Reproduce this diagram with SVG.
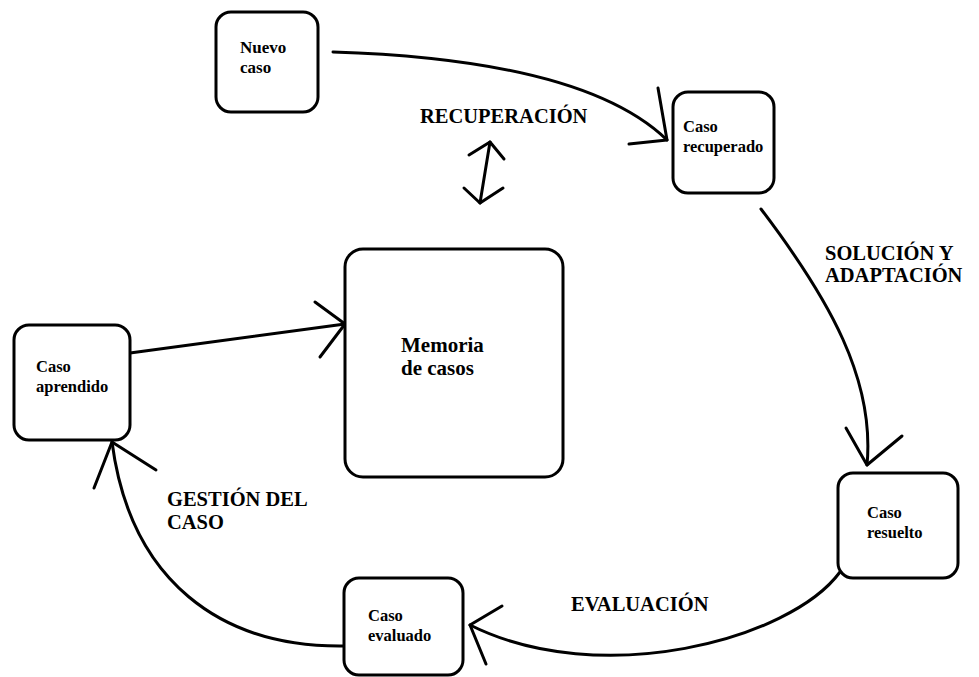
<svg xmlns="http://www.w3.org/2000/svg" width="979" height="677" viewBox="0 0 979 677">
<style>
.node{fill:#fff;stroke:#000;stroke-width:3}
.t{font-family:"Liberation Serif","Times New Roman",serif;font-weight:bold;fill:#000}
.ns{font-size:16.5px}
.nl{font-size:17px}
.lbl{font-size:20.5px}
.mem{font-size:21px}
.c{fill:none;stroke:#000;stroke-width:3;stroke-linecap:round;stroke-linejoin:round}
</style>
<rect width="979" height="677" fill="#fff"/>
<g id="connectors">
<path class="c" d="M333,52 C460,56 600,75 667,140"/>
<path class="c" d="M658,88 L667,140 L629,144"/>
<path class="c" d="M490,142 L480,203"/>
<path class="c" d="M469,155 L490,142 L504,159"/>
<path class="c" d="M464,188 L480,203 L503,188"/>
<path class="c" d="M761,209 C830,300 875,380 867,465"/>
<path class="c" d="M846,428 L867,465 L902,436"/>
<path class="c" d="M840,572 C790,640 600,690 470,625"/>
<path class="c" d="M502,606 L470,625 L486,664"/>
<path class="c" d="M345,646 C220,648 130,580 112,442"/>
<path class="c" d="M94,488 L112,442 L156,470"/>
<path class="c" d="M130,353 L345,324"/>
<path class="c" d="M315,302 L345,324 L320,357"/>
</g>
<g id="nuevo-caso">
<rect class="node" x="216" y="12" width="102" height="100" rx="15"/>
<text class="t nl" x="240" y="53">Nuevo</text>
<text class="t nl" x="240" y="73">caso</text>
</g>
<g id="caso-recuperado">
<rect class="node" x="673" y="92" width="101" height="101" rx="15"/>
<text class="t ns" x="683" y="132">Caso</text>
<text class="t ns" x="683" y="152">recuperado</text>
</g>
<g id="memoria-de-casos">
<rect class="node" x="345" y="249" width="218" height="228" rx="18"/>
<text class="t mem" x="401" y="352">Memoria</text>
<text class="t mem" x="401" y="375">de casos</text>
</g>
<g id="caso-aprendido">
<rect class="node" x="14" y="325" width="116" height="115" rx="15"/>
<text class="t ns" x="36" y="372">Caso</text>
<text class="t ns" x="36" y="392">aprendido</text>
</g>
<g id="caso-resuelto">
<rect class="node" x="838" y="473" width="120" height="105" rx="15"/>
<text class="t ns" x="867" y="518">Caso</text>
<text class="t ns" x="867" y="538">resuelto</text>
</g>
<g id="caso-evaluado">
<rect class="node" x="344" y="578" width="119" height="97" rx="15"/>
<text class="t ns" x="368" y="621">Caso</text>
<text class="t ns" x="368" y="641">evaluado</text>
</g>
<g id="labels">
<text class="t lbl" x="420" y="123">RECUPERACIÓN</text>
<text class="t lbl" x="825" y="260">SOLUCIÓN Y</text>
<text class="t lbl" x="825" y="282">ADAPTACIÓN</text>
<text class="t lbl" x="167" y="506">GESTIÓN DEL</text>
<text class="t lbl" x="167" y="529">CASO</text>
<text class="t lbl" x="571" y="611">EVALUACIÓN</text>
</g>
</svg>
